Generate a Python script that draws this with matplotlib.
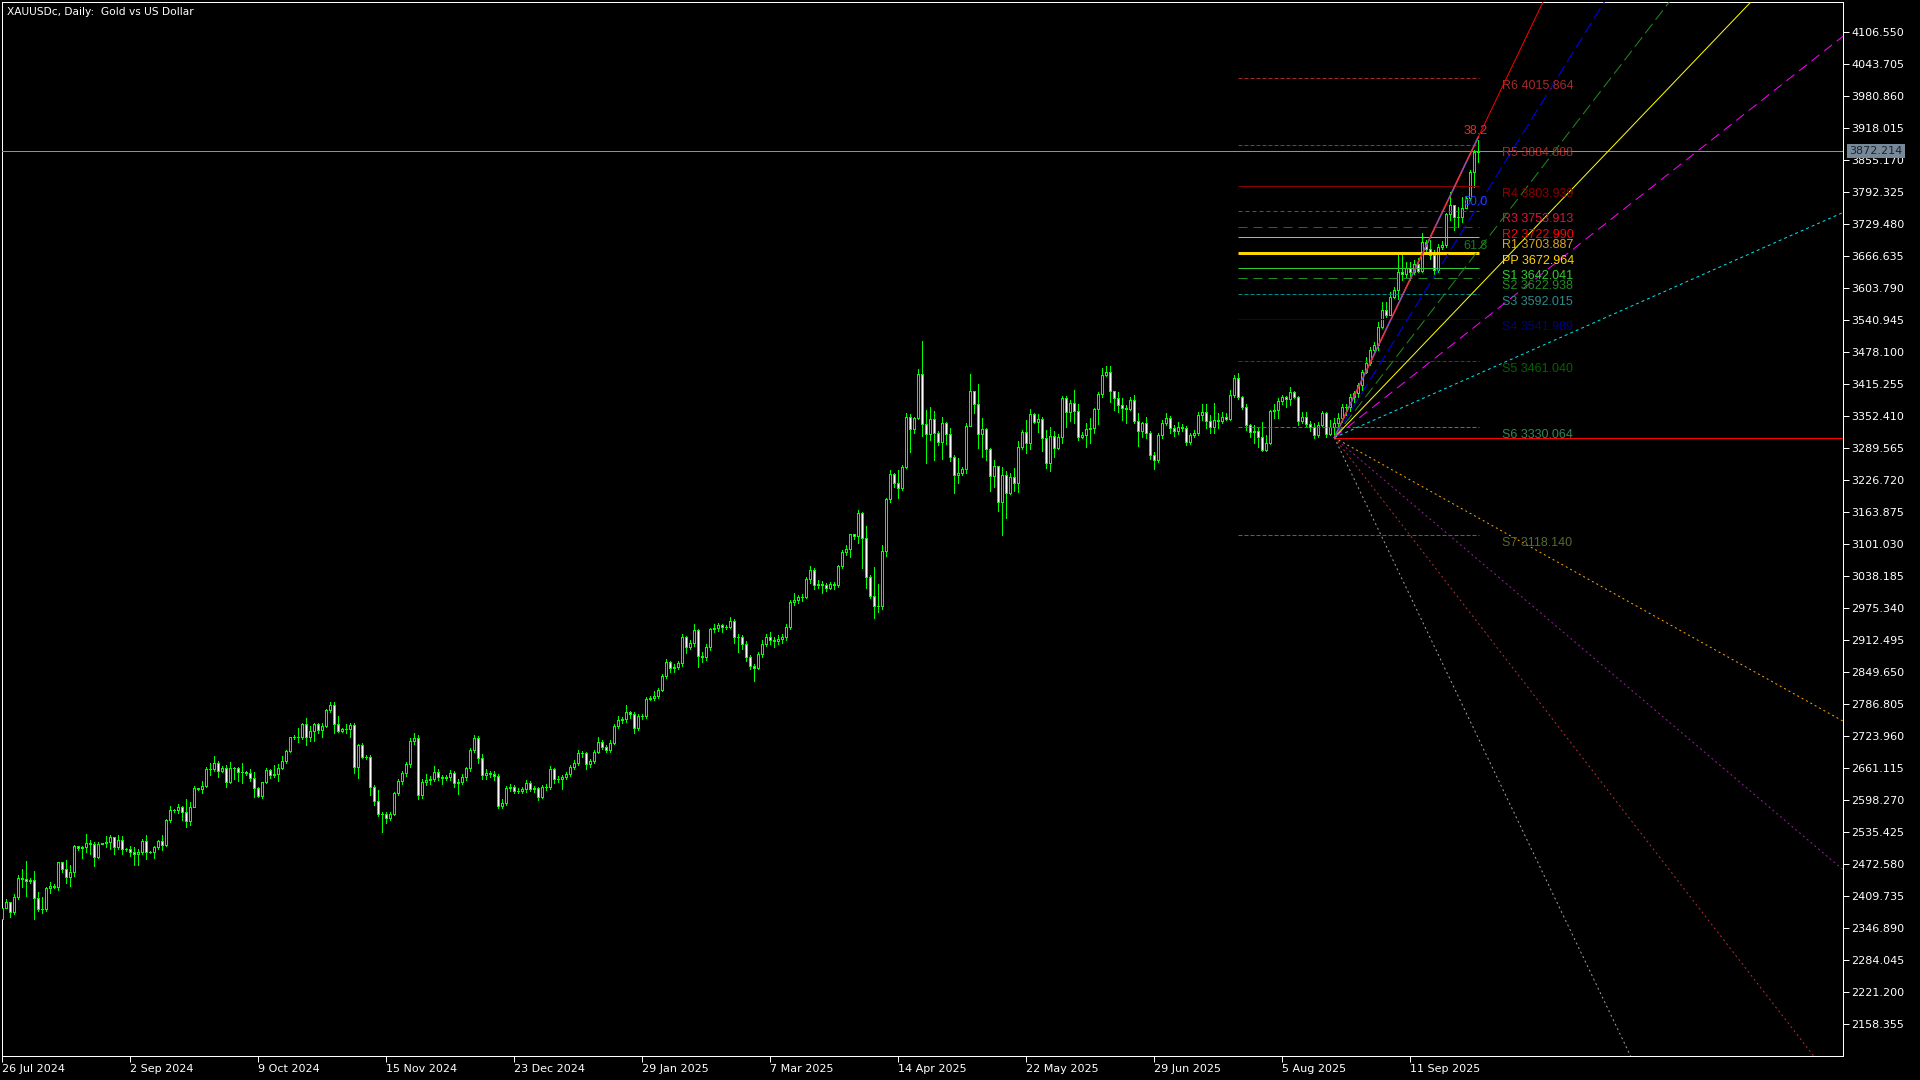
import matplotlib
matplotlib.use("Agg")
import matplotlib.pyplot as plt
import numpy as np

# ---- data (daily bars, one per index) ----
first_open = 2366.0
closes = [
    2386.0, 2398.0, 2379.4, 2408.8, 2444.8, 2444.0, 2440.6, 2441.5, 2405.5, 2384.0,
    2384.0, 2425.2, 2430.4, 2427.1, 2476.2, 2463.1, 2448.1, 2456.6, 2508.3, 2505.0,
    2505.6, 2513.5, 2512.8, 2487.3, 2511.5, 2514.8, 2516.0, 2525.9, 2507.3, 2520.0,
    2502.4, 2502.4, 2497.2, 2492.6, 2495.8, 2518.1, 2497.1, 2496.5, 2507.0, 2518.1,
    2510.2, 2559.3, 2578.3, 2578.3, 2584.2, 2574.4, 2558.0, 2585.5, 2621.5, 2620.8,
    2626.0, 2659.4, 2658.8, 2671.9, 2656.1, 2662.0, 2634.6, 2660.7, 2660.7, 2654.2,
    2654.2, 2650.9, 2642.4, 2621.5, 2606.4, 2633.2, 2657.5, 2647.6, 2649.6, 2662.0,
    2675.1, 2694.7, 2721.6, 2722.9, 2722.9, 2747.7, 2721.6, 2734.0, 2747.7, 2736.0,
    2743.8, 2775.2, 2785.0, 2747.1, 2734.7, 2738.6, 2737.3, 2745.8, 2664.0, 2706.5,
    2683.6, 2683.6, 2623.4, 2597.3, 2570.4, 2571.0, 2562.6, 2570.4, 2611.7, 2635.9,
    2650.9, 2669.3, 2715.1, 2719.6, 2608.4, 2634.6, 2637.9, 2639.8, 2654.2, 2643.0,
    2641.0, 2643.0, 2651.0, 2632.6, 2634.6, 2643.0, 2660.8, 2696.7, 2719.6, 2680.4,
    2647.7, 2651.0, 2650.0, 2646.0, 2587.5, 2592.0, 2622.8, 2624.0, 2617.0, 2617.0,
    2619.5, 2632.6, 2621.0, 2622.0, 2605.2, 2623.5, 2624.8, 2659.5, 2639.8, 2640.0,
    2643.0, 2649.6, 2662.7, 2671.9, 2690.2, 2690.0, 2668.6, 2675.0, 2693.5, 2713.1,
    2702.0, 2697.0, 2711.1, 2743.9, 2755.6, 2757.0, 2770.7, 2767.4, 2740.6, 2763.5,
    2763.0, 2796.9, 2799.0, 2802.7, 2814.5, 2842.0, 2870.1, 2857.0, 2860.3, 2866.9,
    2919.2, 2898.3, 2906.0, 2932.3, 2881.9, 2878.6, 2898.3, 2933.6, 2935.6, 2941.5,
    2938.8, 2938.8, 2950.0, 2917.9, 2918.0, 2905.0, 2880.0, 2862.0, 2858.0, 2885.0,
    2905.0, 2918.0, 2912.0, 2910.0, 2915.0, 2918.0, 2939.0, 2988.0, 2991.0, 2998.0,
    2998.0, 3033.0, 3050.0, 3020.0, 3022.0, 3020.0, 3015.0, 3022.0, 3020.0, 3057.0,
    3086.0, 3092.0, 3120.0, 3116.0, 3161.3, 3112.2, 3037.0, 3000.0, 2980.0, 2980.0,
    3087.4, 3188.8, 3238.5, 3221.5, 3211.7, 3252.2, 3349.7, 3326.2, 3347.8, 3434.1,
    3336.0, 3316.4, 3347.0, 3319.7, 3302.0, 3338.0, 3316.4, 3272.5, 3235.9, 3240.5,
    3248.3, 3333.4, 3401.4, 3375.3, 3316.4, 3326.2, 3287.0, 3235.2, 3254.2, 3184.2,
    3236.5, 3201.9, 3233.3, 3221.5, 3290.9, 3320.3, 3298.7, 3355.6, 3341.2, 3346.0,
    3308.5, 3259.4, 3313.8, 3288.9, 3310.5, 3387.0, 3359.6, 3377.0, 3362.2, 3310.5,
    3316.0, 3326.2, 3329.5, 3365.5, 3394.9, 3432.8, 3438.0, 3402.1, 3387.0, 3374.0,
    3367.4, 3367.0, 3383.8, 3343.2, 3323.6, 3338.0, 3318.3, 3276.0, 3266.0, 3315.0,
    3338.0, 3348.0, 3328.0, 3322.0, 3331.0, 3328.0, 3302.0, 3315.0, 3320.0, 3354.0,
    3361.0, 3343.2, 3331.4, 3344.5, 3343.0, 3351.0, 3346.0, 3393.6, 3427.6, 3390.3,
    3370.7, 3334.7, 3321.6, 3322.0, 3311.8, 3285.6, 3300.0, 3362.2, 3364.0, 3381.8,
    3390.3, 3385.0, 3400.0, 3390.0, 3343.2, 3350.0, 3336.6, 3330.0, 3315.0, 3334.0,
    3358.9, 3318.0, 3330.0, 3338.0, 3348.0, 3370.7, 3370.0, 3390.0, 3396.8, 3413.2,
    3439.4, 3455.7, 3481.9, 3491.7, 3527.7, 3560.4, 3550.6, 3586.6, 3599.7, 3635.7,
    3631.0, 3642.2, 3635.7, 3650.7, 3637.6, 3694.6, 3679.5, 3668.4, 3639.0, 3684.8,
    3688.0, 3748.9, 3766.6, 3743.6, 3742.3, 3760.0, 3779.6, 3832.0, 3871.2, 3872.2,
]
highs = [
    2386.0, 2403.6, 2398.0, 2414.0, 2451.4, 2463.1, 2478.8, 2446.0, 2459.2, 2417.3,
    2408.8, 2428.0, 2436.9, 2433.0, 2477.0, 2477.0, 2480.8, 2471.0, 2509.6, 2507.0,
    2508.3, 2531.8, 2520.0, 2516.8, 2516.8, 2515.0, 2527.9, 2529.9, 2525.3, 2529.2,
    2527.9, 2505.0, 2508.3, 2506.9, 2502.4, 2521.4, 2529.2, 2499.0, 2508.3, 2520.0,
    2529.9, 2560.6, 2586.8, 2581.6, 2590.1, 2586.8, 2600.5, 2594.0, 2626.0, 2623.0,
    2635.9, 2664.0, 2670.5, 2684.9, 2675.1, 2665.0, 2667.3, 2673.2, 2662.7, 2664.0,
    2670.5, 2656.0, 2658.8, 2652.9, 2624.8, 2634.5, 2660.7, 2660.0, 2667.3, 2668.6,
    2684.9, 2696.7, 2722.9, 2726.2, 2739.2, 2749.0, 2758.9, 2743.8, 2750.4, 2750.0,
    2750.4, 2777.0, 2791.6, 2791.6, 2764.1, 2740.0, 2747.7, 2750.4, 2749.0, 2708.5,
    2709.8, 2686.0, 2686.9, 2628.0, 2618.2, 2575.7, 2575.7, 2574.4, 2614.9, 2639.1,
    2656, 2673, 2721, 2730, 2726, 2640, 2650, 2645, 2666, 2659,
    2648, 2647, 2657, 2656, 2640, 2650, 2664, 2700, 2726, 2724,
    2688, 2660, 2656, 2655, 2650, 2600, 2627, 2630, 2628, 2622,
    2624, 2638, 2636, 2627, 2624, 2628, 2630, 2665, 2662, 2646,
    2648, 2654, 2667, 2678, 2697, 2694, 2693, 2680, 2697, 2722,
    2716, 2706, 2716, 2747, 2763, 2762, 2786, 2774, 2772, 2768,
    2768, 2800, 2803, 2812, 2818, 2845, 2875, 2872, 2866, 2871,
    2925, 2920, 2912, 2944, 2935, 2890, 2904, 2937, 2945, 2946,
    2944, 2942, 2957, 2953, 2925, 2922, 2910, 2884, 2866, 2890,
    2912, 2925, 2928, 2918, 2922, 2925, 2944, 2992, 3004, 3002,
    3003, 3036, 3057, 3054, 3030, 3028, 3024, 3027, 3026, 3060,
    3090, 3100, 3121.0, 3120.0, 3167.9, 3163.3, 3136.4, 3040.0, 3055.3, 3021.9,
    3099.1, 3190.7, 3246.4, 3240.0, 3246.4, 3256.0, 3357.6, 3355.6, 3350.0, 3444.0,
    3499.6, 3364.1, 3369.4, 3362.2, 3323.0, 3351.0, 3340.0, 3328.2, 3275.8, 3269.3,
    3252.9, 3338.0, 3434.8, 3402.0, 3414.5, 3349.1, 3328.0, 3290.2, 3266.0, 3254.2,
    3252.9, 3244.4, 3239.8, 3249.6, 3303.9, 3324.9, 3344.5, 3366.1, 3358.0, 3355.6,
    3349.7, 3324.9, 3330.1, 3322.9, 3317.0, 3391.6, 3391.0, 3383.8, 3403.4, 3375.9,
    3321.6, 3339.3, 3347.8, 3367.4, 3400.1, 3447.2, 3450.5, 3450.5, 3402.1, 3400.1,
    3387.0, 3374.0, 3389.0, 3393.6, 3357.6, 3340.2, 3349.7, 3322, 3282, 3320,
    3345, 3358, 3352, 3334, 3340, 3336, 3332, 3320, 3324, 3360,
    3375.9, 3375.9, 3354.3, 3377.2, 3357.6, 3360.9, 3357.6, 3403.4, 3432.8, 3437.4,
    3392.0, 3375.9, 3336.7, 3334.7, 3329.5, 3341.2, 3315.0, 3364.1, 3375.9, 3387.0,
    3393.6, 3392.0, 3409.9, 3402.0, 3391.0, 3360.0, 3360.0, 3343.0, 3338.0, 3340.0,
    3362.0, 3360.0, 3345.0, 3348.0, 3357.6, 3375.9, 3375.9, 3395.0, 3402.0, 3418.0,
    3442.7, 3468.8, 3487.0, 3497.0, 3537.5, 3576.8, 3576.8, 3596.4, 3606.2, 3668.0,
    3670.4, 3655.3, 3655.3, 3658.6, 3661.9, 3710.9, 3697.9, 3697.0, 3678.2, 3690.0,
    3695.0, 3750.2, 3792.7, 3763.3, 3763.3, 3782.9, 3784.2, 3835.3, 3874.5, 3894.1,
]
lows = [
    2363.0, 2386.0, 2369.6, 2374.8, 2403.6, 2428.4, 2410.1, 2436.3, 2364.3, 2381.3,
    2377.4, 2381.0, 2416.7, 2425.2, 2421.9, 2457.9, 2436.3, 2430.4, 2450.0, 2500.4,
    2485.4, 2497.2, 2492.6, 2469.0, 2484.7, 2511.5, 2506.9, 2502.4, 2492.6, 2502.4,
    2492.6, 2499.0, 2489.3, 2471.0, 2471.0, 2492.6, 2482.1, 2494.0, 2485.4, 2502.4,
    2500.4, 2508.0, 2556.0, 2575.7, 2573.7, 2559.3, 2546.2, 2549.5, 2584.2, 2618.0,
    2612.9, 2623.4, 2647.6, 2656.1, 2643.1, 2654.0, 2623.4, 2632.6, 2639.1, 2636.5,
    2631.3, 2647.6, 2636.5, 2603.8, 2603.8, 2601.8, 2631.3, 2642.0, 2644.4, 2636.5,
    2658.8, 2671.9, 2692.1, 2717.7, 2713.1, 2717.7, 2706.5, 2714.4, 2715.0, 2729.4,
    2722.9, 2741.0, 2770.6, 2730.7, 2732.7, 2732.7, 2730.7, 2721.6, 2652.2, 2641.1,
    2680.4, 2680.0, 2608.4, 2588.8, 2567.8, 2536.4, 2554.1, 2560.0, 2569.0, 2608.4,
    2630, 2645, 2664, 2708, 2600, 2603, 2628, 2630, 2636, 2638,
    2630, 2637, 2638, 2625, 2610, 2630, 2638, 2655, 2692, 2672,
    2640, 2640, 2644, 2638, 2582, 2583, 2588, 2616, 2612, 2612,
    2612, 2615, 2617, 2615, 2598, 2602, 2618, 2620, 2632, 2634,
    2620, 2640, 2645, 2660, 2668, 2684, 2660, 2664, 2672, 2690,
    2698, 2692, 2693, 2708, 2740, 2750, 2752, 2760, 2730, 2737,
    2757, 2760, 2794, 2795, 2798, 2812, 2838, 2850, 2850, 2856,
    2862, 2888, 2896, 2900, 2860, 2870, 2874, 2894, 2928, 2930,
    2928, 2934, 2936, 2906, 2890, 2896, 2872, 2855, 2832, 2855,
    2880, 2900, 2905, 2898, 2905, 2906, 2912, 2935, 2982, 2986,
    2990, 2995, 3025, 3012, 3015, 3004, 3008, 3012, 3012, 3017,
    3054, 3080, 3076.0, 3110.0, 3103.7, 3053.3, 3015.4, 2995.0, 2955.2, 2968.3,
    2972.9, 3077.6, 3184.2, 3212.3, 3192.0, 3207.0, 3249.6, 3282.4, 3320.0, 3345.8,
    3313.1, 3259.4, 3305.2, 3266.0, 3296.0, 3267.3, 3297.4, 3264.7, 3200.6, 3221.5,
    3236.5, 3239.8, 3332.7, 3357.6, 3288.9, 3272.5, 3266.0, 3205.8, 3213.6, 3166.6,
    3118.8, 3152.8, 3199.2, 3205.8, 3203.8, 3286.9, 3279.1, 3286.9, 3338.0, 3321.6,
    3284.3, 3249.6, 3245.0, 3271.2, 3288.0, 3300.0, 3331.4, 3343.2, 3338.0, 3305.2,
    3308.5, 3292.2, 3300.0, 3318.3, 3336.7, 3390.3, 3430.0, 3380.5, 3364.1, 3360.9,
    3344.5, 3339.3, 3365.0, 3339.3, 3293.5, 3310.5, 3308.5, 3268, 3248, 3262,
    3310, 3334, 3320, 3314, 3318, 3322, 3296, 3298, 3312, 3316,
    3344.5, 3328.2, 3318.3, 3319.6, 3328.2, 3338.0, 3344.5, 3344.5, 3390.3, 3385.0,
    3365.5, 3324.9, 3311.8, 3300.0, 3292.2, 3283.0, 3283.0, 3296.5, 3347.8, 3347.8,
    3375.9, 3370.7, 3374.0, 3387.0, 3335.0, 3338.0, 3330.0, 3322.0, 3310.0, 3312.0,
    3332.7, 3312.0, 3315.0, 3310.0, 3328.2, 3341.2, 3354.0, 3362.0, 3380.0, 3390.0,
    3403.4, 3436.1, 3452.0, 3478.0, 3481.9, 3524.4, 3547.3, 3557.2, 3583.3, 3583.0,
    3619.3, 3625.9, 3619.3, 3631.1, 3635.7, 3635.7, 3675.0, 3660.0, 3631.1, 3636.0,
    3680.0, 3683.5, 3737.1, 3717.5, 3724.0, 3733.8, 3763.3, 3776.4, 3802.5, 3851.6,
]

date_labels = ["26 Jul 2024", "2 Sep 2024", "9 Oct 2024", "15 Nov 2024", "23 Dec 2024",
               "29 Jan 2025", "7 Mar 2025", "14 Apr 2025", "22 May 2025", "29 Jun 2025",
               "5 Aug 2025", "11 Sep 2025"]
date_bars = [0, 32, 64, 96, 128, 160, 192, 224, 256, 288, 320, 352]

price_ticks = ["4106.550", "4043.705", "3980.860", "3918.015", "3855.170", "3792.325",
               "3729.480", "3666.635", "3603.790", "3540.945", "3478.100", "3415.255",
               "3352.410", "3289.565", "3226.720", "3163.875", "3101.030", "3038.185",
               "2975.340", "2912.495", "2849.650", "2786.805", "2723.960", "2661.115",
               "2598.270", "2535.425", "2472.580", "2409.735", "2346.890", "2284.045",
               "2221.200", "2158.355"]

pivot_names = ["R6", "R5", "R4", "R3", "R2", "R1", "PP", "S1", "S2", "S3", "S4", "S5", "S6", "S7"]
pivot_levels = [4015.864, 3884.888, 3803.939, 3753.913, 3722.990, 3703.887, 3672.964,
                3642.041, 3622.938, 3592.015, 3541.989, 3461.040, 3330.064, 3118.140]

fan_origin_bar, fan_origin_price = 333, 3310.0
fan_anchor_bar, fan_anchor_price = 369, 3900.0
fan_up_ratios = [1.0, 0.773, 0.623, 0.501, 0.378, 0.212]
fan_down_ratios = [-0.267, -0.407, -0.618, -1.0]
fan_texts = ["38.2", "50.0", "61.8"]
fan_text_prices = [3911.8, 3773.4, 3687.1]

last_price = 3872.214

# ---- styling ----
PX = 0.72  # points per pixel at dpi 100
LIME = "#00ff00"
plt.rcParams["font.family"] = ["DejaVu Sans"]
plt.rcParams["lines.scale_dashes"] = False

pivot_line_colors = ["#a52a2a", "#a52a2a", "#8b0000", "#dc143c", "#ff0000", "#ffa500", "#ffd700",
                     "#32cd32", "#228b22", "#008b8b", "#000080", "#006400", "#2e8b57", "#556b2f"]
pivot_text_colors = ["#a52a2a", "#a52a2a", "#8b0000", "#dc143c", "#ff0000", "#daa520", "#ffd700",
                     "#32cd32", "#228b22", "#2e8b8b", "#000080", "#006400", "#2e8b57", "#556b2f"]
pivot_dashes = [(4, 2), (4, 2), None, (4, 3), (9, 6), None, None,
                None, (9, 6), (4, 2), None, (4, 2), (4, 2), (4, 2)]
pivot_widths = [1, 1, 1, 1, 1, 1, 3, 1, 1, 1, 1, 1, 1, 1]

fan_up_colors = ["#ff0000", "#0000ff", "#1e8c1e", "#ffff00", "#ff00ff", "#00e5ee"]
fan_up_dashes = [None, (12, 5), (12, 5), None, (10, 6), (3, 3)]
fan_down_colors = ["#ffa500", "#9b1fa0", "#b03030", "#a0a0a0"]
fan_text_colors = ["#ff2020", "#2040ff", "#1e7a1e"]

fig = plt.figure(figsize=(19.2, 10.8), dpi=100, facecolor="black")
ax = fig.add_axes([2 / 1920, 24 / 1080, 1841 / 1920, 1054 / 1080])
ax.set_facecolor("black")

# candles
n = len(closes)
opens = np.array([first_open] + closes[:-1])
c = np.array(closes)
x = np.arange(n)
bull = c >= opens
ax.vlines(x, lows, highs, color=LIME, lw=PX, antialiased=False, zorder=2)
ax.bar(x, c - opens, bottom=opens, width=0.5,
       color=np.where(bull, "black", "white"), edgecolor=LIME,
       linewidth=PX, antialiased=False, zorder=3)

# current price line
ax.axhline(last_price, color="#8a939c", lw=PX, zorder=4)

# pivot levels
x0, x1 = 308.9, 369.2
for name, lvl, lc, tc, d, w in zip(pivot_names, pivot_levels, pivot_line_colors,
                                   pivot_text_colors, pivot_dashes, pivot_widths):
    kw = {}
    if d is not None:
        kw["dashes"] = (d[0] * PX, d[1] * PX)
    ax.plot([x0, x1], [lvl, lvl], color=lc, lw=w * PX, zorder=5, solid_capstyle="butt", **kw)
    ax.annotate(f"{name} {lvl:.3f}", (374.9, lvl), xytext=(0, -8), textcoords="offset pixels",
                ha="left", va="center", color=tc, fontsize=9,
                family=["Liberation Sans", "DejaVu Sans"], zorder=6)

# fibonacci fan
base_slope = (fan_anchor_price - fan_origin_price) / (fan_anchor_bar - fan_origin_bar)
xe = np.array([fan_origin_bar, 480])
ax.plot(xe, [fan_origin_price, fan_origin_price], color="#ff0000", lw=PX, zorder=5)
for r, col, d in zip(fan_up_ratios, fan_up_colors, fan_up_dashes):
    kw = {}
    if d is not None:
        kw["dashes"] = (d[0] * PX, d[1] * PX)
    ax.plot(xe, fan_origin_price + r * base_slope * (xe - fan_origin_bar),
            color=col, lw=PX, zorder=5, **kw)
for r, col in zip(fan_down_ratios, fan_down_colors):
    ax.plot(xe, fan_origin_price + r * base_slope * (xe - fan_origin_bar),
            color=col, lw=PX, dashes=(2 * PX, 3 * PX), zorder=5)
# anchor trend line (red overlaid with blue dots)
ax.plot([fan_origin_bar, fan_anchor_bar], [fan_origin_price, fan_anchor_price],
        color="#ff2a2a", lw=1.6 * PX, zorder=6)
ax.plot([fan_origin_bar, fan_anchor_bar], [fan_origin_price, fan_anchor_price],
        color="#3a6cff", lw=1.2 * PX, dashes=(1.2 * PX, 1.2 * PX), zorder=7)
for t, p, col in zip(fan_texts, fan_text_prices, fan_text_colors):
    ax.text(365.2, p, t, color=col, fontsize=9, ha="left", va="center",
            family=["Liberation Sans", "DejaVu Sans"], zorder=8)

# axes
ax.set_xlim(-0.075, 460.18)
ax.set_ylim(2096.1, 4165.1)
for s in ax.spines.values():
    s.set_color("white")
    s.set_linewidth(PX)
ax.yaxis.tick_right()
ax.set_yticks([float(v) for v in price_ticks], price_ticks)
ax.set_xticks(date_bars, date_labels)
for lab in ax.get_xticklabels():
    lab.set_ha("left")
ax.tick_params(axis="y", colors="white", length=4, width=PX, pad=2, labelsize=8)
ax.tick_params(axis="x", colors="white", length=4, width=PX, pad=2, labelsize=8)

# price tag on the axis
ax.text(1.0035, last_price, f"{last_price:.3f}", transform=ax.get_yaxis_transform(),
        ha="left", va="center", fontsize=8, color="#1a2430", clip_on=False, zorder=10,
        bbox=dict(boxstyle="square,pad=0.2", facecolor="#778899", edgecolor="none"))

fig.text(7 / 1920, 1 - 12 / 1080, "XAUUSDc, Daily:  Gold vs US Dollar",
         color="white", fontsize=7.7, ha="left", va="center")

fig.savefig("out.png", dpi=100, facecolor="black")
